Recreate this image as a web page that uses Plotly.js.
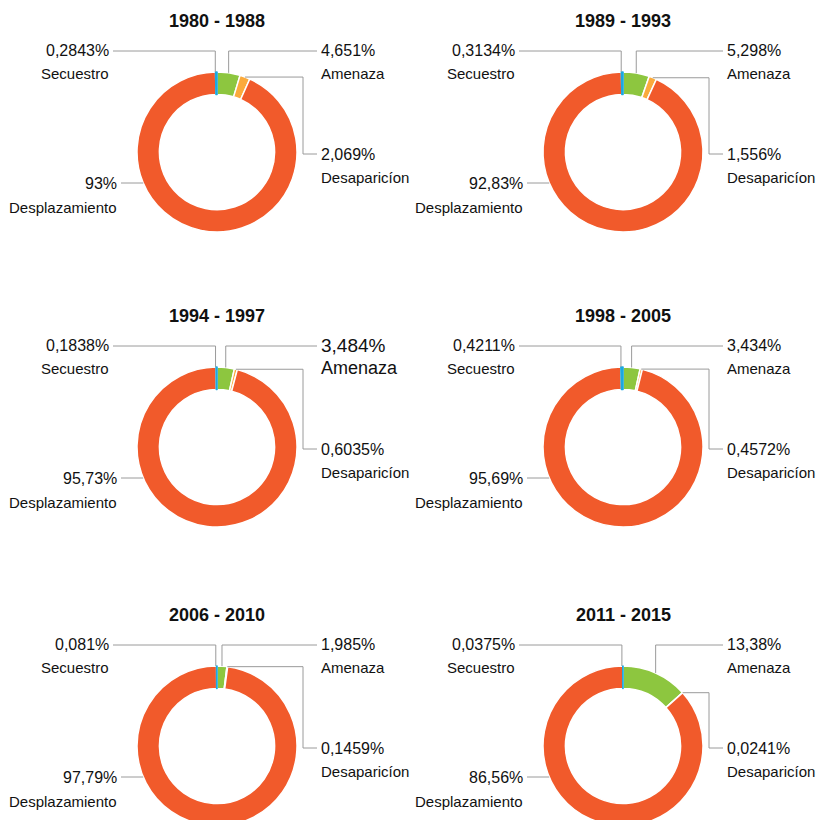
<!DOCTYPE html>
<html>
<head>
<meta charset="utf-8">
<script src="https://cdn.plot.ly/plotly-3.0.1.min.js"></script>
<style>
  html, body { margin: 0; padding: 0; background: #fff; overflow: hidden; }
  #chart { width: 819px; height: 840px; }
</style>
</head>
<body>
<div id="chart"></div>
<script>
// ---- datos (porcentajes por periodo) ----
const periods = ['1980 - 1988', '1989 - 1993', '1994 - 1997', '1998 - 2005', '2006 - 2010', '2011 - 2015'];
const categories = ['Amenaza', 'Desaparicíon', 'Desplazamiento', 'Secuestro'];
const amenaza = [4.651, 5.298, 3.484, 3.434, 1.985, 13.38];
const desaparicion = [2.069, 1.556, 0.6035, 0.4572, 0.1459, 0.0241];
const desplazamiento = [93, 92.83, 95.73, 95.69, 97.79, 86.56];
const secuestro = [0.2843, 0.3134, 0.1838, 0.4211, 0.081, 0.0375];
const colors = ['#8DC63F', '#FBAA3C', '#F15A2B', '#1BA9E1'];

// ---- geometría ----
const W = 819, H = 840;
const COLS = [217, 623], ROWS = [152, 447, 746];
const R = 80, HOLE = 0.72;
const px = x => x / W, py = y => 1 - y / H;
const LINE = { color: '#9a9a9a', width: 1 };
const FONT = 'Liberation Sans, Arial, sans-serif';

const fmt = v => String(v).replace('.', ',') + '%';

const traces = [], annotations = [], shapes = [];

function label(x, y, text, anchor, size) {
  annotations.push({ x: px(x), y: py(y), xref: 'paper', yref: 'paper', text, showarrow: false,
    xanchor: anchor, yanchor: 'middle', font: { family: FONT, size, color: '#111' } });
}
function path(pts) {
  const d = pts.map((p, i) => (i ? 'L' : 'M') + px(p[0]) + ',' + py(p[1])).join(' ');
  shapes.push({ type: 'path', xref: 'paper', yref: 'paper', path: d, line: LINE });
}

periods.forEach((per, i) => {
  const cx = COLS[i % 2], cy = ROWS[Math.floor(i / 2)];
  const vals = [amenaza[i], desaparicion[i], desplazamiento[i], secuestro[i]];
  const total = vals.reduce((a, b) => a + b, 0);

  // la porción de secuestro es mínima: se traza con su propio color para que se vea
  traces.push({
    type: 'pie', values: vals, labels: categories, sort: false, direction: 'clockwise', rotation: 0,
    hole: HOLE, textinfo: 'none', hoverinfo: 'skip', showlegend: false,
    marker: { colors, line: { color: ['#fff', '#fff', '#fff', colors[3]], width: [1.5, 1.5, 1.5, 1.6] } },
    domain: { x: [px(cx - R), px(cx + R)], y: [py(cy + R), py(cy - R)] }
  });

  // punto medio de cada porción sobre el borde exterior
  let acc = 0;
  const mid = vals.map(v => {
    const a = (acc + v / 2) / total * 2 * Math.PI; acc += v;
    return [cx + R * Math.sin(a), cy - R * Math.cos(a)];
  });

  annotations.push({ x: px(cx), y: py(cy - 131), xref: 'paper', yref: 'paper', text: '<b>' + per + '</b>',
    showarrow: false, xanchor: 'center', yanchor: 'middle', font: { family: FONT, size: 18, color: '#111' } });

  const big = i === 2;   // 1994-1997: Amenaza con letra más grande
  // Secuestro
  path([[cx - 104, cy - 101], [mid[3][0] - 1, cy - 101], [mid[3][0] - 1, mid[3][1]]]);
  label(cx - 106, cy - 102, fmt(secuestro[i]), 'right', 16);
  label(cx - 106, cy - 79, 'Secuestro', 'right', 15);
  // Amenaza
  path([[mid[0][0], mid[0][1]], [mid[0][0], cy - 101], [cx + 100, cy - 101]]);
  label(cx + 102, cy - 102, fmt(amenaza[i]), 'left', big ? 19 : 16);
  label(cx + 102, cy - 79, 'Amenaza', 'left', big ? 18 : 15);
  // Desaparicion
  path([[mid[1][0], mid[1][1]], [cx + 86, mid[1][1]], [cx + 86, cy + 2], [cx + 100, cy + 2]]);
  label(cx + 102, cy + 2, fmt(desaparicion[i]), 'left', 16);
  label(cx + 102, cy + 25, 'Desaparicíon', 'left', 15);
  // Desplazamiento
  const ly = 31, ex = cx - Math.sqrt(R * R - ly * ly);
  path([[cx - 96, cy + ly], [ex, cy + ly]]);
  label(cx - 98, cy + ly, fmt(desplazamiento[i]), 'right', 16);
  label(cx - 98, cy + ly + 24, 'Desplazamiento', 'right', 15);
});

Plotly.newPlot('chart', traces, {
  width: W, height: H, margin: { l: 0, r: 0, t: 0, b: 0 },
  paper_bgcolor: '#fff', annotations, shapes, showlegend: false
}, { displayModeBar: false, staticPlot: true });
</script>
</body>
</html>
